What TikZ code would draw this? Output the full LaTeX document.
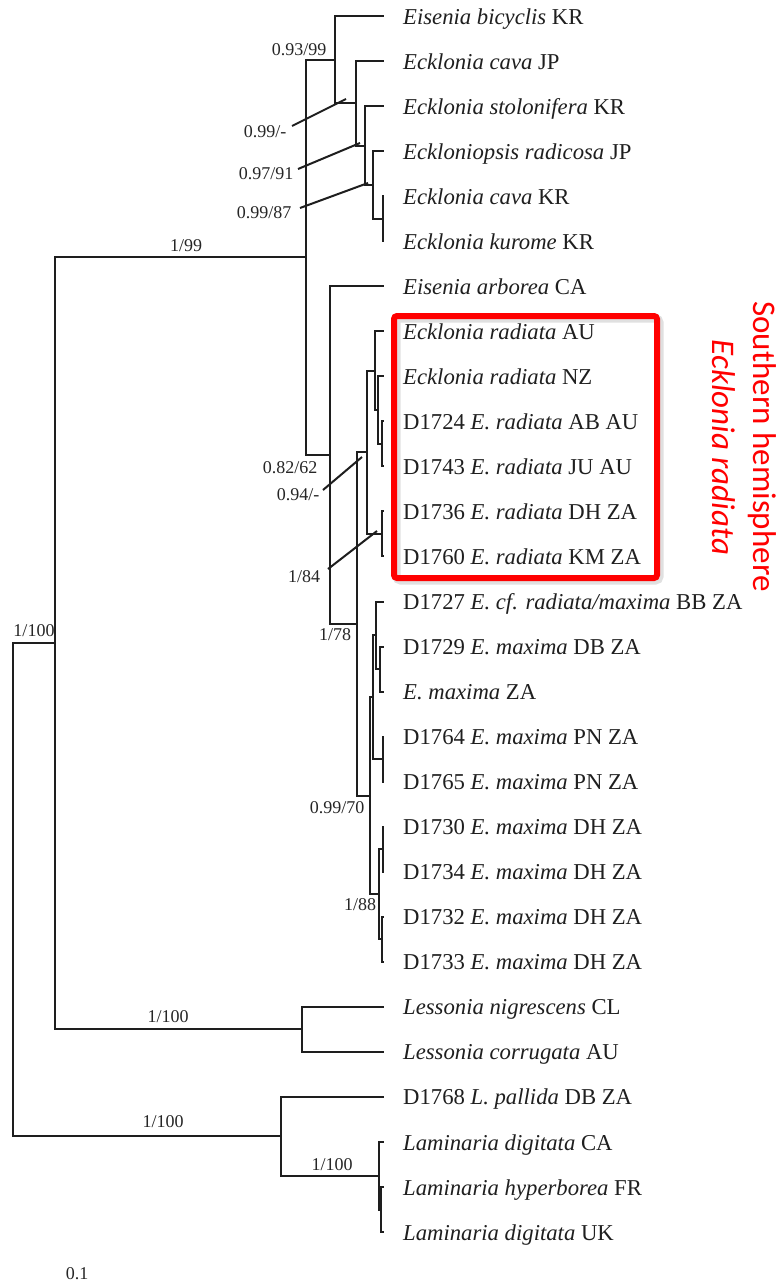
\documentclass[tikz,border=0pt]{standalone}
\usepackage{fontspec}
\setmainfont{Liberation Serif}
\newfontfamily\redfont{Carlito}
\definecolor{treeline}{HTML}{1E1E1E}
\definecolor{boxred}{HTML}{FF0000}
\begin{document}
\begin{tikzpicture}[x=1pt,y=-1pt,
  br/.style={draw=treeline,line width=2pt},
  lead/.style={draw=treeline,line width=2pt},
  leaf/.style={anchor=base west,inner sep=0pt,font=\fontsize{22.7}{27}\selectfont,text=black!88},
  sup/.style={inner sep=0pt,font=\fontsize{18}{21}\selectfont,text=black!85},
  redtxt/.style={inner sep=0pt,font=\redfont\fontsize{33}{38}\selectfont,text=boxred,rotate=-90,anchor=base},
  redbox/.style={draw=boxred,line width=6pt,rounded corners=3pt},
  boxshadow/.style={draw=black,opacity=0.12,line width=8pt,rounded corners=4pt}]
\useasboundingbox (0,0) rectangle (777,1285);
\fill[white] (0,0) rectangle (777,1285);

% leaf tips
\foreach \i in {0,...,27}{
  \pgfmathsetmacro\yy{16+45.04*\i}
  \coordinate (t\i) at (384,\yy);
}
% leaf labels
\foreach \i/\t in {
 0/{\textit{Eisenia bicyclis} KR},
 1/{\textit{Ecklonia cava} JP},
 2/{\textit{Ecklonia stolonifera} KR},
 3/{\textit{Eckloniopsis radicosa} JP},
 4/{\textit{Ecklonia cava} KR},
 5/{\textit{Ecklonia kurome} KR},
 6/{\textit{Eisenia arborea} CA},
 7/{\textit{Ecklonia radiata} AU},
 8/{\textit{Ecklonia radiata} NZ},
 9/{D1724 \textit{E. radiata} AB AU},
 10/{D1743 \textit{E. radiata} JU AU},
 11/{D1736 \textit{E. radiata} DH ZA},
 12/{D1760 \textit{E. radiata} KM ZA},
 13/{D1727 \textit{E. cf. radiata/maxima} BB ZA},
 14/{D1729 \textit{E. maxima} DB ZA},
 15/{\textit{E. maxima} ZA},
 16/{D1764 \textit{E. maxima} PN ZA},
 17/{D1765 \textit{E. maxima} PN ZA},
 18/{D1730 \textit{E. maxima} DH ZA},
 19/{D1734 \textit{E. maxima} DH ZA},
 20/{D1732 \textit{E. maxima} DH ZA},
 21/{D1733 \textit{E. maxima} DH ZA},
 22/{\textit{Lessonia nigrescens} CL},
 23/{\textit{Lessonia corrugata} AU},
 24/{D1768 \textit{L. pallida} DB ZA},
 25/{\textit{Laminaria digitata} CA},
 26/{\textit{Laminaria hyperborea} FR},
 27/{\textit{Laminaria digitata} UK}}{
  \node[leaf] (l\i) at ([shift={(19,8)}]t\i) {\t};
}

% internal nodes
\coordinate (nC3) at (383,218.7);
\coordinate (nC2) at (373,185);
\coordinate (nC) at (365,145.5);
\coordinate (nB) at (356,103.3);
\coordinate (nA) at (335,59.7);
\coordinate (nK) at (382,443.9);
\coordinate (nJ) at (378,410.1);
\coordinate (nH) at (375,370.7);
\coordinate (nI) at (382,534);
\coordinate (nG) at (367,452.3);
\coordinate (nQ) at (380,669.1);
\coordinate (nO) at (376,635.3);
\coordinate (nP) at (383,759.2);
\coordinate (nM) at (373,697.2);
\coordinate (nR) at (383,849.2);
\coordinate (nS) at (382,939.3);
\coordinate (nN) at (379,894.3);
\coordinate (nL) at (370,795.7);
\coordinate (nF) at (357,624);
\coordinate (nE) at (330,455.1);
\coordinate (nD) at (306,257.4);
\coordinate (nLes) at (302,1029.4);
\coordinate (nIng) at (55,643.4);
\coordinate (nLam3) at (381,1209.6);
\coordinate (nLam2) at (379,1175.8);
\coordinate (nLam) at (281,1136.4);
\coordinate (root) at (13,889.9);

% branches
\draw[br] (nA) |- (t0);   \draw[br] (nA) |- (nB);
\draw[br] (nB) |- (t1);   \draw[br] (nB) |- (nC);
\draw[br] (nC) |- (t2);   \draw[br] (nC) |- (nC2);
\draw[br] (nC2) |- (t3);  \draw[br] (nC2) |- (nC3);
\draw[br] (nC3) |- (t4);  \draw[br] (nC3) |- (t5);
\draw[br] (nD) |- (nA);   \draw[br] (nD) |- (nE);
\draw[br] (nE) |- (t6);   \draw[br] (nE) |- (nF);
\draw[br] (nF) |- (nG);   \draw[br] (nF) |- (nL);
\draw[br] (nG) |- (nH);   \draw[br] (nG) |- (nI);
\draw[br] (nH) |- (t7);   \draw[br] (nH) |- (nJ);
\draw[br] (nJ) |- (t8);   \draw[br] (nJ) |- (nK);
\draw[br] (nK) |- (t9);   \draw[br] (nK) |- (t10);
\draw[br] (nI) |- (t11);  \draw[br] (nI) |- (t12);
\draw[br] (nL) |- (nM);   \draw[br] (nL) |- (nN);
\draw[br] (nM) |- (nO);   \draw[br] (nM) |- (nP);
\draw[br] (nO) |- (t13);  \draw[br] (nO) |- (nQ);
\draw[br] (nQ) |- (t14);  \draw[br] (nQ) |- (t15);
\draw[br] (nP) |- (t16);  \draw[br] (nP) |- (t17);
\draw[br] (nN) |- (nR);   \draw[br] (nN) |- (nS);
\draw[br] (nR) |- (t18);  \draw[br] (nR) |- (t19);
\draw[br] (nS) |- (t20);  \draw[br] (nS) |- (t21);
\draw[br] (nIng) |- (nD); \draw[br] (nIng) |- (nLes);
\draw[br] (nLes) |- (t22); \draw[br] (nLes) |- (t23);
\draw[br] (root) |- (nIng); \draw[br] (root) |- (nLam);
\draw[br] (nLam) |- (t24); \draw[br] (nLam) |- (nLam2);
\draw[br] (nLam2) |- (t25); \draw[br] (nLam2) |- (nLam3);
\draw[br] (nLam3) |- (t26); \draw[br] (nLam3) |- (t27);

% support values
\node[sup] (s9399) at (299,50) {0.93/99};
\node[sup] (s199) at (186,246) {1/99};
\node[sup] (s099) at (265,132) {0.99/-};
\node[sup] (s9791) at (266,174) {0.97/91};
\node[sup] (s9987) at (264,213) {0.99/87};
\node[sup] (s8262) at (290,468) {0.82/62};
\node[sup] (s094) at (298,495) {0.94/-};
\node[sup] (s184) at (304,577) {1/84};
\node[sup] (s178) at (335,635) {1/78};
\node[sup] (s9970) at (337,808) {0.99/70};
\node[sup] (s188) at (360,905) {1/88};
\node[sup] (s100a) at (34,631) {1/100};
\node[sup] (s100b) at (168,1017) {1/100};
\node[sup] (s100c) at (163,1122) {1/100};
\node[sup] (s100d) at (332,1165) {1/100};
\node[sup] (scale) at (77,1274) {0.1};

% leader lines
\coordinate (a1) at (292,126); \coordinate (b1) at (346,99);
\coordinate (a2) at (298,169); \coordinate (b2) at (360,143);
\coordinate (a3) at (300,208); \coordinate (b3) at (368,183);
\coordinate (a4) at (323,490); \coordinate (b4) at (362,457);
\coordinate (a5) at (328,569); \coordinate (b5) at (377,531);
\draw[lead] (a1) -- (b1);
\draw[lead] (a2) -- (b2);
\draw[lead] (a3) -- (b3);
\draw[lead] (a4) -- (b4);
\draw[lead] (a5) -- (b5);

% red box
\coordinate (bx1) at (394,316);
\coordinate (bx2) at (657,578);
\draw[boxshadow] ([shift={(2.5,2.5)}]bx1) rectangle ([shift={(2.5,2.5)}]bx2);
\draw[redbox] (bx1) rectangle (bx2);

% red captions
\node[redtxt] (sh) at (753,446.5) {Southern hemisphere};
\node[redtxt] (er) at (712,447.5) {\itshape Ecklonia radiata};
\end{tikzpicture}
\end{document}
